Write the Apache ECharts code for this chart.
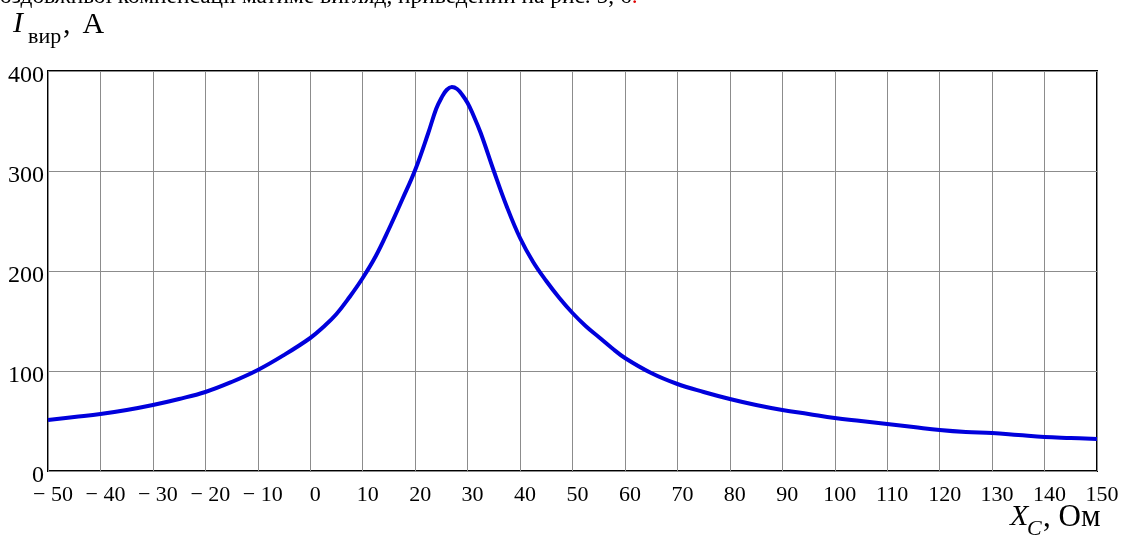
<!DOCTYPE html>
<html>
<head>
<meta charset="utf-8">
<script src="https://cdn.jsdelivr.net/npm/echarts@6/dist/echarts.min.js"></script>
<style>
  html, body { margin: 0; padding: 0; background: #fff; }
  #chart { width: 1123px; height: 545px; }
</style>
</head>
<body>
<div id="chart"></div>
<script>
// Short-circuit current vs. series capacitor reactance
const reactance = [-50, -45, -40, -35, -30, -25, -20, -15, -10, -5, 0, 2.5, 5, 7.5, 10, 12.5, 15, 17.5, 20, 22.5, 24, 25, 26, 27, 28, 29, 30, 31, 32.5, 35, 37.5, 40, 42.5, 45, 47.5, 50, 52.5, 55, 57.5, 60, 65, 70, 75, 80, 85, 90, 95, 100, 105, 110, 115, 120, 125, 130, 135, 140, 145, 150];
const current = [51, 54, 57, 61, 66, 72, 79, 89, 101, 116, 133, 144, 157, 174, 193, 215, 242, 271, 301, 338, 362, 373, 381, 384, 382, 376, 368, 357, 338, 300, 264, 233, 209, 190, 173, 158, 145, 134, 123, 113, 98, 87, 79, 72, 66, 61, 57, 53, 50, 47, 44, 41, 39, 38, 36, 34, 33, 32];

const xTicks = { min: -50, max: 150, step: 10 };
const yTicks = { min: 0, max: 400, step: 100 };

const serif = '"Liberation Serif", "DejaVu Serif", serif';

const chart = echarts.init(document.getElementById('chart'));
chart.setOption({
  animation: false,
  backgroundColor: '#fff',
  grid: {
    left: 48, right: 26, top: 71, bottom: 74,
    show: true, borderColor: '#000', borderWidth: 2
  },
  xAxis: {
    type: 'value',
    min: xTicks.min, max: xTicks.max, interval: xTicks.step,
    axisLine: { show: false },
    axisTick: { show: false },
    splitLine: { show: true, lineStyle: { color: '#8c8c8c', width: 1 } },
    axisLabel: {
      fontFamily: serif, fontSize: 22, color: '#000', margin: 13,
      padding: [0, 0, 0, 10],
      showMinLabel: true, showMaxLabel: true,
      formatter: v => v < 0 ? '\u2212 ' + Math.abs(v) : String(v)
    }
  },
  yAxis: {
    type: 'value',
    min: yTicks.min, max: yTicks.max, interval: yTicks.step,
    axisLine: { show: false },
    axisTick: { show: false },
    splitLine: { show: true, lineStyle: { color: '#8c8c8c', width: 1 } },
    axisLabel: {
      color: '#000', margin: 4,
      formatter: v => '{n|' + v + '}',
      rich: {
        n: { fontFamily: serif, fontSize: 24, color: '#000', lineHeight: 24, padding: [10, 0, 0, 0] }
      }
    }
  },
  series: [{
    type: 'line',
    data: reactance.map((x, i) => [x, current[i]]),
    smooth: 0.4,
    showSymbol: false,
    lineStyle: { color: '#0000dc', width: 4 },
    z: 3
  }],
  graphic: [
    {
      type: 'text', x: 0, y: -3,
      style: {
        text: '{t|оздовжньої компенсації матиме вигляд, приведений на рис. 5, 6}{r|.}',
        verticalAlign: 'middle',
        rich: {
          t: { fontFamily: serif, fontSize: 23.4, fill: '#000' },
          r: { fontFamily: serif, fontSize: 23.4, fill: '#e00000' }
        }
      }
    },
    // y-axis title: I with subscript "вир", then unit
    { type: 'text', x: 13, y: 24, style: { text: 'I', fontFamily: serif, fontStyle: 'italic', fontSize: 30, fill: '#000', verticalAlign: 'middle' } },
    { type: 'text', x: 28, y: 37, style: { text: 'вир', fontFamily: serif, fontSize: 22, fill: '#000', verticalAlign: 'middle' } },
    { type: 'text', x: 63, y: 25, style: { text: ',\u2009\u2009А', fontFamily: serif, fontSize: 30, fill: '#000', verticalAlign: 'middle' } },
    // x-axis title: X with subscript C, then unit
    { type: 'text', x: 1010, y: 517, style: { text: 'X', fontFamily: serif, fontStyle: 'italic', fontSize: 30, fill: '#000', verticalAlign: 'middle' } },
    { type: 'text', x: 1027, y: 529, style: { text: 'C', fontFamily: serif, fontStyle: 'italic', fontSize: 22, fill: '#000', verticalAlign: 'middle' } },
    { type: 'text', x: 1043, y: 518, style: { text: ', Ом', fontFamily: serif, fontSize: 31, fill: '#000', verticalAlign: 'middle' } }
  ]
});
</script>
</body>
</html>
